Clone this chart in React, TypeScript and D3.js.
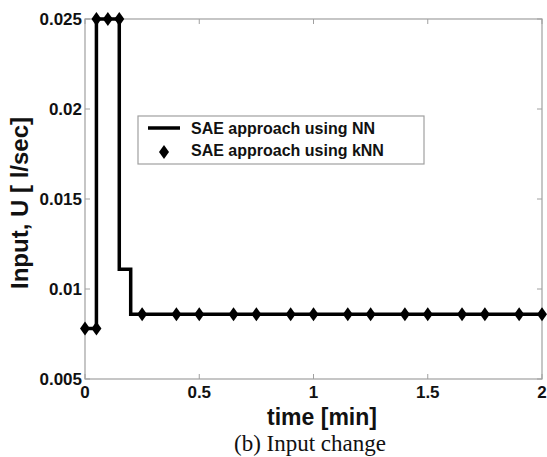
import React from "react";
import * as d3 from "d3";

// NN step profile (breakpoints, step-after)
const nnTime = [0, 0.05, 0.15, 0.2, 2];
const nnInput = [0.0078, 0.025, 0.0111, 0.0086, 0.0086];

// kNN markers
const knnTime = [0, 0.05, 0.05, 0.1, 0.15, 0.25, 0.4, 0.5, 0.65, 0.75, 0.9, 1.0, 1.15, 1.25, 1.4, 1.5, 1.65, 1.75, 1.9, 2.0];
const knnInput = [0.0078, 0.0078, 0.025, 0.025, 0.025, 0.0086, 0.0086, 0.0086, 0.0086, 0.0086, 0.0086, 0.0086, 0.0086, 0.0086, 0.0086, 0.0086, 0.0086, 0.0086, 0.0086, 0.0086];

const xTicks = [0, 0.5, 1, 1.5, 2];
const yTicks = [0.005, 0.01, 0.015, 0.02, 0.025];
const legendLabels = ["SAE approach using NN", "SAE approach using kNN"];

const W = 547;
const H = 457;
const m = { left: 85, right: 5, top: 19, bottom: 78 };

export default function App() {
  const x = d3.scaleLinear().domain([0, 2]).range([m.left, W - m.right]);
  const y = d3.scaleLinear().domain([0.005, 0.025]).range([H - m.bottom, m.top]);

  const line = d3
    .line<number>()
    .x((_, i) => x(nnTime[i]))
    .y((d) => y(d))
    .curve(d3.curveStepAfter);

  const diamond = (cx: number, cy: number) =>
    `M${cx},${cy - 7}L${cx + 5},${cy}L${cx},${cy + 7}L${cx - 5},${cy}Z`;

  const font = "Arial, 'Liberation Sans', sans-serif";
  const axisColor = "#a0a0a0";
  const x0 = x(0), x1 = x(2), y0 = y(0.005), y1 = y(0.025);

  return (
    <svg width={W} height={H} style={{ position: "absolute", left: 0, top: 0 }}>
      <rect width={W} height={H} fill="#fff" />
      <rect x={x0} y={y1} width={x1 - x0} height={y0 - y1} fill="none" stroke={axisColor} strokeWidth={1.2} />
      {xTicks.map((t) => (
        <g key={"x" + t}>
          <line x1={x(t)} x2={x(t)} y1={y0} y2={y0 - 5} stroke={axisColor} />
          <line x1={x(t)} x2={x(t)} y1={y1} y2={y1 + 5} stroke={axisColor} />
          <text x={x(t)} y={y0 + 19} textAnchor="middle" fontFamily={font} fontWeight="bold" fontSize={17} fill="#111">
            {String(t)}
          </text>
        </g>
      ))}
      {yTicks.map((t) => (
        <g key={"y" + t}>
          <line x1={x0} x2={x0 + 5} y1={y(t)} y2={y(t)} stroke={axisColor} />
          <line x1={x1} x2={x1 - 5} y1={y(t)} y2={y(t)} stroke={axisColor} />
          <text x={x0 - 3} y={y(t) + 6} textAnchor="end" fontFamily={font} fontWeight="bold" fontSize={17} fill="#111">
            {String(t)}
          </text>
        </g>
      ))}
      <path d={line(nnInput) ?? ""} fill="none" stroke="#000" strokeWidth={3.5} />
      {knnTime.map((t, i) => (
        <path key={"k" + i} d={diamond(x(t), y(knnInput[i]))} fill="#000" />
      ))}
      {/* legend */}
      <rect x={138} y={116} width={286} height={48} fill="#fff" stroke={axisColor} strokeWidth={1.2} />
      <line x1={148} x2={180} y1={128} y2={128} stroke="#000" strokeWidth={3.5} />
      <path d={diamond(164, 152)} fill="#000" />
      {legendLabels.map((l, i) => (
        <text key={l} x={191} y={134 + i * 22} fontFamily={font} fontWeight="bold" fontSize={16} fill="#111">
          {l}
        </text>
      ))}
      <text
        transform={`translate(28,203) rotate(-90)`}
        textAnchor="middle"
        fontFamily={font}
        fontWeight="bold"
        fontSize={24}
        fill="#111"
      >
        Input, U [ l/sec]
      </text>
      <text x={322} y={425} textAnchor="middle" fontFamily={font} fontWeight="bold" fontSize={23} fill="#111">
        time [min]
      </text>
      <text x={310} y={451} textAnchor="middle" fontFamily="'Liberation Serif', 'Times New Roman', serif" fontSize={23} fill="#111">
        (b) Input change
      </text>
    </svg>
  );
}
